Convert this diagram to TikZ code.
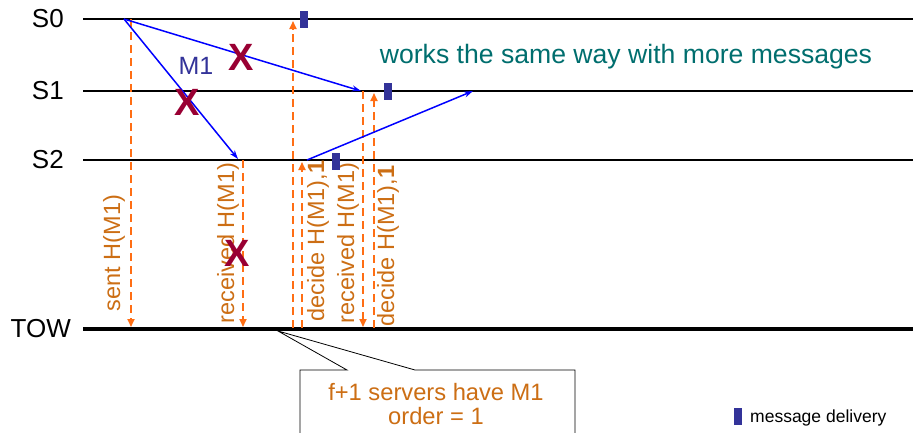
\documentclass[tikz,border=0pt]{standalone}
\usepackage{fontspec}
\setmainfont{Liberation Sans}
\usetikzlibrary{arrows.meta}

\definecolor{msgblue}{RGB}{0,0,255}
\definecolor{hashorange}{RGB}{255,110,20}
\definecolor{labelorange}{RGB}{204,110,20}
\definecolor{crossred}{RGB}{153,0,51}
\definecolor{deliverblue}{RGB}{51,51,153}
\definecolor{noteteal}{RGB}{0,110,110}

\begin{document}
\begin{tikzpicture}[x=1pt,y=-1pt,
server/.style={font=\fontsize{26}{28}\selectfont,anchor=east,inner sep=0pt},
timeline/.style={line width=2pt},
msg/.style={-{Stealth[length=9pt,width=6pt]},draw=msgblue,line width=1.5pt},
hash/.style={-{Triangle[length=8pt,width=7pt]},draw=hashorange,dash pattern=on 8pt off 5pt,line width=1.8pt},
hashlabel/.style={rotate=90,text=labelorange,font=\fontsize{23.5}{26}\selectfont,inner sep=0pt},
cross/.style={text=crossred,font=\bfseries\fontsize{38}{40}\selectfont,inner sep=0pt},
delivery/.style={fill=deliverblue,minimum width=8pt,minimum height=17pt,inner sep=0pt}]
\useasboundingbox (0,0) rectangle (913,432);

% server time lines
\foreach \name/\lbl/\y in {zero/S0/19,one/S1/91,two/S2/160}{
  \coordinate (\name-a) at (83,\y);
  \coordinate (\name-b) at (913,\y);
  \draw[timeline] (\name-a) -- (\name-b);
  \node[server] (lbl-\name) at (64,\y) {\lbl};
}
\coordinate (tow-a) at (83,329);
\coordinate (tow-b) at (913,329);
\draw[line width=4pt] (tow-a) -- (tow-b);
\node[server] (lbl-tow) at (71,329) {TOW};

% hash records to and from TOW
\foreach \n/\x/\ya/\yb in {sent/131/19/327,recvtwo/243/160/327,decidezero/293/328/21,decidetwo/302/328/162,recvone/363/91/327,decideone/374/328/93}{
  \coordinate (\n-from) at (\x,\ya);
  \coordinate (\n-to) at (\x,\yb);
  \draw[hash] (\n-from) -- (\n-to);
}
\node[hashlabel] (sentlbl) at (114,253) {sent H(M1)};
\node[hashlabel] (recvtwolbl) at (228,243) {received H(M1)};
\node[hashlabel] (decidetwolbl) at (318,241) {decide H(M1),\textbf{1}};
\node[hashlabel] (recvonelbl) at (348,243) {received H(M1)};
\node[hashlabel] (decideonelbl) at (388,246) {decide H(M1),\textbf{1}};

% messages
\coordinate (m1-src) at (124,19);
\coordinate (m1-two) at (238,159);
\coordinate (m1-one) at (361,91);
\coordinate (fwd-src) at (307,160);
\coordinate (fwd-dst) at (473,91);
\draw[msg] (m1-src) -- (m1-two);
\draw[msg] (m1-src) -- (m1-one);
\draw[msg] (fwd-src) -- (fwd-dst);
\node[text=deliverblue,font=\fontsize{25}{27}\selectfont,inner sep=0pt] (m1lbl) at (196,66) {M1};

% lost / failed
\node[cross] (xone) at (241,57) {X};
\node[cross] (xtwo) at (187,102) {X};
\node[cross] (xtow) at (237,253) {X};

% deliveries
\node[delivery] (dzero) at (304,19) {};
\node[delivery] (done) at (388,91) {};
\node[delivery] (dtwo) at (336,161) {};

\node[text=noteteal,font=\fontsize{26.6}{28}\selectfont,anchor=base,inner sep=0pt] (note) at (626,63) {works the same way with more messages};

% callout
\coordinate (calltip) at (278,331);
\filldraw[fill=white,draw=black,line width=0.8pt] (300,370) -- (347,370) -- (calltip) -- (415,370) -- (575,370) -- (575,445) -- (300,445) -- cycle;
\node[text=labelorange,font=\fontsize{23.7}{24}\selectfont,anchor=base,inner sep=0pt] (callone) at (436,400) {f+1 servers have M1};
\node[text=labelorange,font=\fontsize{23.7}{24}\selectfont,anchor=base,inner sep=0pt] (calltwo) at (436,424) {order = 1};

% legend
\node[delivery] (legmark) at (738,416) {};
\node[font=\fontsize{17.5}{19}\selectfont,anchor=base west,inner sep=0pt] (legtext) at (750,422) {message delivery};
\end{tikzpicture}
\end{document}
